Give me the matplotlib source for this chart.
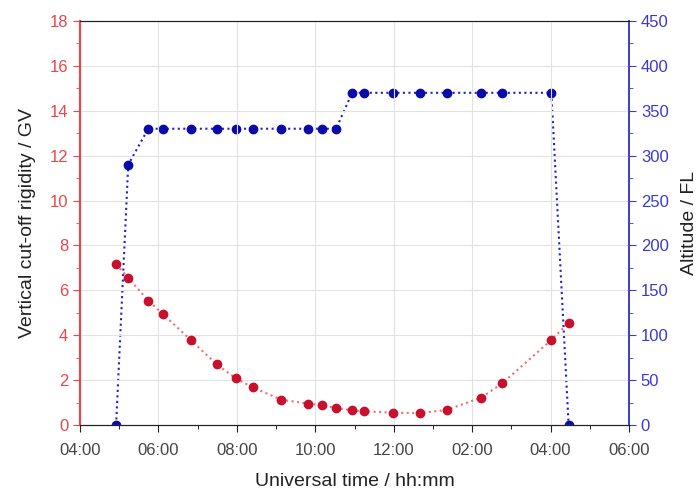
import matplotlib
matplotlib.use("Agg")
import matplotlib.pyplot as plt
from matplotlib.ticker import MultipleLocator, FuncFormatter

plt.rcParams["font.family"] = ["Liberation Sans", "DejaVu Sans"]

# flight time in hours (UT, 04:00 -> 18:00)
time_h = [4.92, 5.23, 5.74, 6.11, 6.82, 7.49, 7.97, 8.40, 9.13, 9.82, 10.17,
          10.53, 10.94, 11.25, 11.98, 12.66, 13.35, 14.23, 14.77, 16.02, 16.46]
rigidity_gv = [7.16, 6.56, 5.54, 4.95, 3.79, 2.70, 2.08, 1.68, 1.13, 0.95, 0.88,
               0.76, 0.65, 0.61, 0.55, 0.53, 0.67, 1.22, 1.86, 3.79, 4.56]
altitude_fl = [0, 290, 330, 330, 330, 330, 330, 330, 330, 330, 330,
               330, 370, 370, 370, 370, 370, 370, 370, 370, 0]

red = "#e8474a"
blue = "#3a3ad0"

fig = plt.figure(figsize=(7, 4.95), dpi=100)
ax = fig.add_axes([0.1143, 0.1414, 0.7843, 0.8162])
ax2 = ax.twinx()

# altitude on right axis
ax2.plot(time_h, altitude_fl, linestyle=":", color="#2020c8", lw=1.5,
         marker="o", markersize=6, markerfacecolor="#0a0aa8",
         markeredgecolor="#0a0aa8", zorder=3)
ax2.set_ylim(0, 450)
ax2.yaxis.set_major_locator(MultipleLocator(50))
ax2.yaxis.set_minor_locator(MultipleLocator(25))
ax2.set_ylabel("Altitude / FL", fontsize=14, color="#222222", labelpad=9)

# rigidity on left axis
ax.plot(time_h, rigidity_gv, linestyle=":", color="#f07070", lw=1.5,
        marker="o", markersize=6, markerfacecolor="#c8102e",
        markeredgecolor="#c8102e", zorder=3)
ax.set_ylim(0, 18)
ax.set_xlim(4, 18)
ax.yaxis.set_major_locator(MultipleLocator(2))
ax.yaxis.set_minor_locator(MultipleLocator(1))
ax.xaxis.set_major_locator(MultipleLocator(2))
ax.xaxis.set_minor_locator(MultipleLocator(1))
ax.xaxis.set_major_formatter(FuncFormatter(
    lambda v, p: "%02d:00" % (int(round(v)) if v <= 12 else int(round(v)) - 12)))
ax.set_ylabel("Vertical cut-off rigidity / GV", fontsize=14, color="#222222",
              labelpad=10)
ax.set_xlabel("Universal time / hh:mm", fontsize=14, color="#222222",
              labelpad=11)
ax.grid(True, which="major", color="#e2e2e2", lw=0.8)
ax.set_axisbelow(True)
ax.set_zorder(ax2.get_zorder() + 1)
ax.patch.set_visible(False)

ax.tick_params(axis="y", colors=red, labelsize=12, direction="out", length=5)
ax.tick_params(axis="y", which="minor", colors=red, length=3)
ax.tick_params(axis="x", colors="#222222", labelcolor="#444444", labelsize=12,
               direction="out", length=5, pad=8)
ax.tick_params(axis="x", which="minor", length=3)
ax2.tick_params(axis="y", colors=blue, labelsize=12, direction="out", length=5)
ax2.tick_params(axis="y", which="minor", colors=blue, length=3)

for a in (ax, ax2):
    a.spines["left"].set_color(red)
    a.spines["right"].set_color(blue)
    a.spines["top"].set_color("#222222")
    a.spines["bottom"].set_color("#222222")
    a.spines["left"].set_linewidth(1.5)
    a.spines["right"].set_linewidth(1.2)

fig.savefig("out.png", dpi=100)
